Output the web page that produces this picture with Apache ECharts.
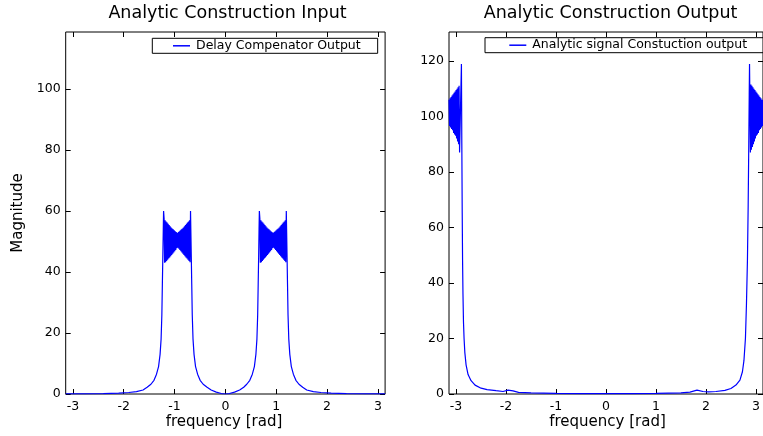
<!DOCTYPE html>
<html>
<head>
<meta charset="utf-8">
<script src="https://cdn.jsdelivr.net/npm/echarts@6/dist/echarts.min.js"></script>
<style>html,body{margin:0;padding:0;background:#fff}#c{width:763px;height:436px}</style>
</head>
<body>
<div id="c"></div>
<script>
// ---------- Tick labels ----------
var xTicks = [-3, -2, -1, 0, 1, 2, 3];
var yTicksLeft = [0, 20, 40, 60, 80, 100];
var yTicksRight = [0, 20, 40, 60, 80, 100, 120];

// ---------- Left plot: Delay Compenator Output ----------
var inOuterLeftFreq = [-3.1416, -2.8, -2.4, -2.1, -1.9, -1.75, -1.62, -1.54, -1.465, -1.405, -1.355, -1.315, -1.285, -1.265, -1.25, -1.24, -1.23, -1.222, -1.216];
var inOuterLeftMag  = [0.02, 0.06, 0.15, 0.3, 0.5, 0.8, 1.3, 2.2, 3.2, 4.5, 6.5, 9, 13, 18, 26, 36, 46, 54, 60];
var bandAFreq = [-1.206, -1.196, -1.186, -1.176, -1.166, -1.156, -1.146, -1.136, -1.126, -1.116, -1.106, -1.096, -1.086, -1.076, -1.066, -1.056, -1.046, -1.036, -1.026, -1.016, -1.006, -0.996, -0.986, -0.976, -0.966, -0.956, -0.946, -0.936, -0.926, -0.916, -0.906, -0.896, -0.886, -0.876, -0.866, -0.856, -0.846, -0.836, -0.826, -0.816, -0.806, -0.796, -0.786, -0.776, -0.766, -0.756, -0.746, -0.736, -0.726, -0.716, -0.706, -0.696];
var bandAMag  = [57.5, 43.0, 57.0, 43.2, 56.6, 43.6, 56.2, 44.0, 55.8, 44.4, 55.4, 44.8, 55.0, 45.2, 54.6, 45.6, 54.3, 46.0, 54.0, 46.4, 53.7, 46.8, 53.4, 47.2, 53.1, 47.8, 52.8, 48.0, 53.1, 47.6, 53.4, 47.2, 53.7, 46.8, 54.0, 46.4, 54.3, 46.0, 54.6, 45.6, 55.0, 45.2, 55.4, 44.8, 55.8, 44.4, 56.2, 44.0, 56.6, 43.6, 57.0, 43.2];
var inMiddleFreq = [-0.686, -0.68, -0.672, -0.662, -0.652, -0.637, -0.617, -0.587, -0.547, -0.497, -0.437, -0.36, -0.28, -0.18, -0.08, 0, 0.08, 0.18, 0.28, 0.36, 0.42, 0.48, 0.53, 0.57, 0.60, 0.62, 0.635, 0.645, 0.655, 0.662, 0.668];
var inMiddleMag  = [60, 54, 46, 36, 26, 18, 13, 9, 6.5, 4.5, 3.2, 2.2, 1.3, 0.6, 0.15, 0, 0.15, 0.6, 1.3, 2.2, 3.2, 4.5, 6.5, 9, 13, 18, 26, 36, 46, 54, 60];
var bandBFreq = [0.678, 0.688, 0.698, 0.708, 0.718, 0.728, 0.738, 0.748, 0.758, 0.768, 0.778, 0.788, 0.798, 0.808, 0.818, 0.828, 0.838, 0.848, 0.858, 0.868, 0.878, 0.888, 0.898, 0.908, 0.918, 0.928, 0.938, 0.948, 0.958, 0.968, 0.978, 0.988, 0.998, 1.008, 1.018, 1.028, 1.038, 1.048, 1.058, 1.068, 1.078, 1.088, 1.098, 1.108, 1.118, 1.128, 1.138, 1.148, 1.158, 1.168, 1.178, 1.188];
var bandBMag  = [57.5, 43.0, 57.0, 43.2, 56.6, 43.6, 56.2, 44.0, 55.8, 44.4, 55.4, 44.8, 55.0, 45.2, 54.6, 45.6, 54.3, 46.0, 54.0, 46.4, 53.7, 46.8, 53.4, 47.2, 53.1, 47.8, 52.8, 48.0, 53.1, 47.6, 53.4, 47.2, 53.7, 46.8, 54.0, 46.4, 54.3, 46.0, 54.6, 45.6, 55.0, 45.2, 55.4, 44.8, 55.8, 44.4, 56.2, 44.0, 56.6, 43.6, 57.0, 43.2];
var inOuterRightFreq = [1.198, 1.204, 1.212, 1.222, 1.232, 1.247, 1.267, 1.297, 1.337, 1.387, 1.447, 1.52, 1.60, 1.73, 1.88, 2.08, 2.38, 2.78, 3.1416];
var inOuterRightMag  = [60, 54, 46, 36, 26, 18, 13, 9, 6.5, 4.5, 3.2, 2.2, 1.3, 0.8, 0.5, 0.3, 0.15, 0.06, 0.02];

// ---------- Right plot: Analytic signal Constuction output ----------
var outEdgeLeftFreq = [-3.1416, -3.13, -3.12, -3.11, -3.10, -3.09, -3.08, -3.07, -3.06, -3.05, -3.04, -3.03, -3.02, -3.01, -3.00, -2.99, -2.98, -2.97, -2.96, -2.95, -2.94, -2.93];
var outEdgeLeftMag  = [106, 96.5, 106.5, 96, 107, 95.5, 107.5, 95, 108, 94, 108.5, 93.5, 109, 93, 109.5, 92, 110, 91, 110.5, 90, 111, 87];
var outMiddleFreq = [-2.893, -2.885, -2.877, -2.87, -2.862, -2.852, -2.84, -2.825, -2.80, -2.76, -2.70, -2.62, -2.50, -2.38, -2.2, -2.06, -1.96, -1.86, -1.75, -1.5, -1.0, -0.5, 0, 0.5, 1.0, 1.5, 1.68, 1.82, 1.94, 2.05, 2.2, 2.38, 2.5, 2.6, 2.68, 2.73, 2.76, 2.79, 2.81, 2.83, 2.845, 2.857, 2.866, 2.872];
var outMiddleMag  = [118.9, 90, 65, 48, 36, 26, 20, 15, 10.5, 7, 4.8, 3.2, 2.1, 1.6, 1.2, 0.9, 1.4, 1.1, 0.6, 0.4, 0.25, 0.15, 0.1, 0.15, 0.25, 0.4, 0.7, 1.4, 0.9, 0.8, 0.9, 1.3, 2.0, 3.2, 5, 8, 12, 20, 32, 48, 68, 90, 108, 118.9];
var outEdgeRightFreq = [2.89, 2.90, 2.91, 2.92, 2.93, 2.94, 2.95, 2.96, 2.97, 2.98, 2.99, 3.00, 3.01, 3.02, 3.03, 3.04, 3.05, 3.06, 3.07, 3.08, 3.09, 3.10, 3.11, 3.12, 3.13, 3.1416];
var outEdgeRightMag  = [87, 111.5, 88, 111, 89, 110.5, 90, 110, 91, 109.5, 92, 109, 93, 108.5, 93.5, 108, 94, 107.5, 95, 107, 95.5, 106.5, 96, 106, 96.5, 106];

function pairs(fs, ms) {
  var out = [];
  for (var k = 0; k < fs.length; k++) {
    for (var i = 0; i < fs[k].length; i++) out.push([fs[k][i], ms[k][i]]);
  }
  return out;
}
var leftData = pairs([inOuterLeftFreq, bandAFreq, inMiddleFreq, bandBFreq, inOuterRightFreq],
                     [inOuterLeftMag, bandAMag, inMiddleMag, bandBMag, inOuterRightMag]);
var rightData = pairs([outEdgeLeftFreq, outMiddleFreq, outEdgeRightFreq],
                      [outEdgeLeftMag, outMiddleMag, outEdgeRightMag]);

var FONT = 'DejaVu Sans';
var XMIN = -3.1416, XMAX = 3.1416;
var G = [
  {left: 65.7, top: 32, width: 319.4, height: 362},
  {left: 449, top: 32, width: 319.4, height: 362}
];
var YMAX = [118.7, 130.4];
var YT = [yTicksLeft, yTicksRight];

var grids = [], xAxes = [], yAxes = [];
for (var g = 0; g < 2; g++) {
  grids.push({left: G[g].left, top: G[g].top, width: G[g].width, height: G[g].height,
    show: true, borderColor: '#000', borderWidth: 1, backgroundColor: 'transparent'});
  xAxes.push({type: 'value', gridIndex: g, position: 'bottom', min: XMIN, max: XMAX,
    axisLine: {show: false, onZero: false}, splitLine: {show: false},
    axisTick: {show: true, inside: true, length: 5, customValues: xTicks, lineStyle: {color: '#000'}},
    axisLabel: {show: true, customValues: xTicks, margin: 6, color: '#000', fontFamily: FONT, fontSize: 12.5,
      formatter: function (v) { return String(v); }}});
  xAxes.push({type: 'value', gridIndex: g, position: 'top', min: XMIN, max: XMAX,
    axisLine: {show: false, onZero: false}, splitLine: {show: false},
    axisTick: {show: true, inside: true, length: 5, customValues: xTicks, lineStyle: {color: '#000'}},
    axisLabel: {show: false}});
  yAxes.push({type: 'value', gridIndex: g, position: 'left', min: 0, max: YMAX[g],
    axisLine: {show: false, onZero: false}, splitLine: {show: false},
    axisTick: {show: true, inside: true, length: 5, customValues: YT[g], lineStyle: {color: '#000'}},
    axisLabel: {show: true, customValues: YT[g], margin: 5, color: '#000', fontFamily: FONT, fontSize: 12.5}});
  yAxes.push({type: 'value', gridIndex: g, position: 'right', min: 0, max: YMAX[g],
    axisLine: {show: false, onZero: false}, splitLine: {show: false},
    axisTick: {show: true, inside: true, length: 5, customValues: YT[g], lineStyle: {color: '#000'}},
    axisLabel: {show: false}});
}

var chart = echarts.init(document.getElementById('c'), null, {renderer: 'canvas'});
chart.setOption({
  animation: false,
  backgroundColor: '#fff',
  grid: grids,
  xAxis: xAxes,
  yAxis: yAxes,
  legend: [
    {data: ['Delay Compenator Output'], left: 152.3, top: 38.3, orient: 'horizontal',
     padding: [1, 17, 1, 20.7], borderColor: '#000', borderWidth: 1, borderRadius: 0,
     itemWidth: 17, itemHeight: 1.5, icon: 'rect', selectedMode: false,
     textStyle: {fontFamily: FONT, fontSize: 12.5, color: '#000', padding: [0, 0, 0, 1]}},
    {data: ['Analytic signal Constuction output'], left: 485, top: 37.7, orient: 'horizontal',
     padding: [1, 17, 1, 24.3], borderColor: '#000', borderWidth: 1, borderRadius: 0,
     itemWidth: 17, itemHeight: 1.5, icon: 'rect', selectedMode: false,
     textStyle: {fontFamily: FONT, fontSize: 12.5, color: '#000', padding: [0, 0, 0, 1]}}
  ],
  series: [
    {name: 'Delay Compenator Output', type: 'line', xAxisIndex: 0, yAxisIndex: 0,
     data: leftData, showSymbol: false, symbol: 'none', sampling: null,
     lineStyle: {color: '#0000ff', width: 1.2}, itemStyle: {color: '#0000ff'}},
    {name: 'Analytic signal Constuction output', type: 'line', xAxisIndex: 2, yAxisIndex: 2,
     data: rightData, showSymbol: false, symbol: 'none', sampling: null,
     lineStyle: {color: '#0000ff', width: 1.2}, itemStyle: {color: '#0000ff'}}
  ],
  graphic: [
    {type: 'text', x: 227.5, y: 13.5, style: {text: 'Analytic Construction Input', font: '17.5px "DejaVu Sans"', fill: '#000', textAlign: 'center', textVerticalAlign: 'middle'}},
    {type: 'text', x: 610.5, y: 13.5, style: {text: 'Analytic Construction Output', font: '17.5px "DejaVu Sans"', fill: '#000', textAlign: 'center', textVerticalAlign: 'middle'}},
    {type: 'text', x: 224, y: 422.5, style: {text: 'frequency [rad]', font: '15px "DejaVu Sans"', fill: '#000', textAlign: 'center', textVerticalAlign: 'middle'}},
    {type: 'text', x: 607.5, y: 422.5, style: {text: 'frequency [rad]', font: '15px "DejaVu Sans"', fill: '#000', textAlign: 'center', textVerticalAlign: 'middle'}},
    {type: 'text', x: 18, y: 213, rotation: Math.PI / 2, style: {text: 'Magnitude', font: '15px "DejaVu Sans"', fill: '#000', textAlign: 'center', textVerticalAlign: 'middle'}}
  ]
});
</script>
</body>
</html>
